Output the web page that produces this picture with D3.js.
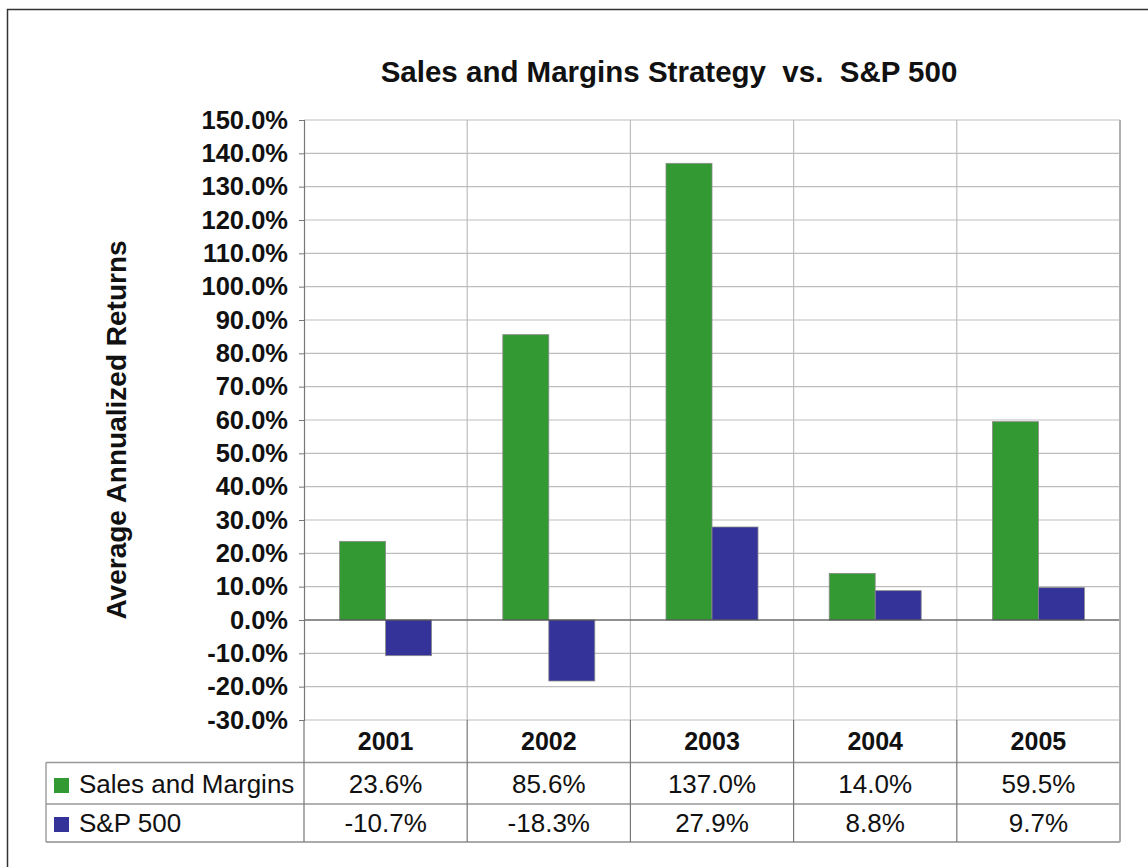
<!DOCTYPE html>
<html>
<head>
<meta charset="utf-8">
<script src="https://cdn.jsdelivr.net/npm/d3@7"></script>
<style>
  body { margin: 0; background: #fff; }
  svg text { font-family: "Liberation Sans", Arial, sans-serif; fill: #111; }
</style>
</head>
<body>
<div id="chart"></div>
<script>
// Data
const years = ['2001', '2002', '2003', '2004', '2005'];
const seriesNames = ['Sales and Margins', 'S&P 500'];
const salesMargins = [23.6, 85.6, 137.0, 14.0, 59.5];
const sp500 = [-10.7, -18.3, 27.9, 8.8, 9.7];
const seriesColors = ['#339933', '#333399'];
const yTicks = [-30, -20, -10, 0, 10, 20, 30, 40, 50, 60, 70, 80, 90, 100, 110, 120, 130, 140, 150];

(function() {
  const width = 1148, height = 867;
  const plot = {left: 304, right: 1120, top: 120, bottom: 720};
  const rowLines = [762.5, 804, 842];   // table row boundaries below the plot
  const tableLeft = 46;

  const svg = d3.select('#chart').append('svg')
    .attr('width', width)
    .attr('height', height);

  // Outer frame (runs past the window edge)
  svg.append('rect')
    .attr('x', 7.5).attr('y', 9.5)
    .attr('width', 1200).attr('height', 1000)
    .attr('fill', 'none')
    .attr('stroke', '#333')
    .attr('stroke-width', 1.5);

  const x0 = d3.scaleBand().domain(years).range([plot.left, plot.right]).padding(0);
  const x1 = d3.scaleBand().domain(seriesNames).range([0, x0.bandwidth()])
    .paddingInner(0).paddingOuter(0.774);
  const y = d3.scaleLinear().domain([-30, 150]).range([plot.bottom, plot.top]);

  // Horizontal grid
  svg.append('g').selectAll('line')
    .data(yTicks)
    .enter().append('line')
    .attr('x1', plot.left).attr('x2', plot.right)
    .attr('y1', d => y(d)).attr('y2', d => y(d))
    .attr('stroke', '#bdbdbd')
    .attr('stroke-width', 1.2);

  // Vertical grid at category boundaries
  const bounds = years.map(d => x0(d)).concat([plot.right]);
  svg.append('g').selectAll('line')
    .data(bounds.slice(1, -1))
    .enter().append('line')
    .attr('x1', d => d).attr('x2', d => d)
    .attr('y1', plot.top).attr('y2', plot.bottom)
    .attr('stroke', '#bdbdbd')
    .attr('stroke-width', 1.2);

  // Bars
  const series = [salesMargins, sp500];
  const groups = svg.append('g').selectAll('g')
    .data(years)
    .enter().append('g')
    .attr('transform', d => `translate(${x0(d)},0)`);

  groups.selectAll('rect')
    .data((d, i) => series.map((s, j) => ({name: seriesNames[j], value: s[i], color: seriesColors[j]})))
    .enter().append('rect')
    .attr('x', d => x1(d.name))
    .attr('width', x1.bandwidth())
    .attr('y', d => y(Math.max(0, d.value)))
    .attr('height', d => Math.abs(y(d.value) - y(0)))
    .attr('fill', d => d.color)
    .attr('stroke', '#8a8a8a')
    .attr('stroke-width', 0.8);

  // Zero line
  svg.append('line')
    .attr('x1', plot.left).attr('x2', plot.right)
    .attr('y1', y(0)).attr('y2', y(0))
    .attr('stroke', '#444')
    .attr('stroke-width', 1.2);

  // Right border of plot
  svg.append('line')
    .attr('x1', plot.right).attr('x2', plot.right)
    .attr('y1', plot.top).attr('y2', plot.bottom)
    .attr('stroke', '#b0b0b0')
    .attr('stroke-width', 2);

  // Y axis
  const yAxis = d3.axisLeft(y)
    .tickValues(yTicks)
    .tickSize(5)
    .tickPadding(11)
    .tickFormat(d => d.toFixed(1) + '%');

  const yg = svg.append('g')
    .attr('transform', `translate(${plot.left},0)`)
    .call(yAxis);
  yg.select('.domain').attr('stroke', '#777').attr('stroke-width', 1.2);
  yg.selectAll('.tick line').attr('stroke', '#777');
  yg.selectAll('.tick text')
    .attr('font-size', 25.5)
    .attr('font-weight', 'bold')
    .attr('font-family', '"Liberation Sans", Arial, sans-serif')
    .attr('fill', '#111');

  // Title
  svg.append('text')
    .attr('x', 669)
    .attr('y', 82)
    .attr('text-anchor', 'middle')
    .attr('font-size', 29.5)
    .attr('font-weight', 'bold')
    .style('white-space', 'pre')
    .text('Sales and Margins Strategy  vs.  S&P 500');

  // Y axis title
  svg.append('text')
    .attr('transform', 'translate(126,430) rotate(-90)')
    .attr('text-anchor', 'middle')
    .attr('font-size', 28)
    .attr('font-weight', 'bold')
    .text('Average Annualized Returns');

  // Data table
  const table = svg.append('g');
  const lineColor = '#999';

  // horizontal row lines
  table.append('line')
    .attr('x1', tableLeft).attr('x2', plot.right)
    .attr('y1', rowLines[0]).attr('y2', rowLines[0])
    .attr('stroke', lineColor).attr('stroke-width', 1.5);
  table.append('line')
    .attr('x1', tableLeft).attr('x2', plot.right)
    .attr('y1', rowLines[1]).attr('y2', rowLines[1])
    .attr('stroke', lineColor).attr('stroke-width', 1.5);
  table.append('line')
    .attr('x1', tableLeft).attr('x2', plot.right)
    .attr('y1', rowLines[2]).attr('y2', rowLines[2])
    .attr('stroke', '#aaa').attr('stroke-width', 2);

  // vertical lines
  table.selectAll('line.v')
    .data(bounds)
    .enter().append('line')
    .attr('class', 'v')
    .attr('x1', d => d).attr('x2', d => d)
    .attr('y1', plot.bottom).attr('y2', rowLines[2])
    .attr('stroke', (d, i) => i === bounds.length - 1 ? '#aaa' : '#777')
    .attr('stroke-width', (d, i) => i === bounds.length - 1 ? 2 : 1.2);
  table.append('line')
    .attr('x1', tableLeft).attr('x2', tableLeft)
    .attr('y1', rowLines[0]).attr('y2', rowLines[2])
    .attr('stroke', '#888').attr('stroke-width', 1.2);

  // year header
  table.selectAll('text.year')
    .data(years)
    .enter().append('text')
    .attr('class', 'year')
    .attr('x', d => x0(d) + x0.bandwidth() / 2)
    .attr('y', 750)
    .attr('text-anchor', 'middle')
    .attr('font-size', 25)
    .attr('font-weight', 'bold')
    .text(d => d);

  const rowBase = [793, 832];
  series.forEach((s, j) => {
    table.append('rect')
      .attr('x', 54)
      .attr('y', rowBase[j] - 15)
      .attr('width', 15)
      .attr('height', 15)
      .attr('fill', seriesColors[j]);
    table.append('text')
      .attr('x', 79)
      .attr('y', rowBase[j])
      .attr('font-size', 26)
      .attr('fill', '#222')
      .text(seriesNames[j]);
    table.selectAll('text.val' + j)
      .data(s)
      .enter().append('text')
      .attr('class', 'val' + j)
      .attr('x', (d, i) => x0(years[i]) + x0.bandwidth() / 2)
      .attr('y', rowBase[j])
      .attr('text-anchor', 'middle')
      .attr('font-size', 26)
      .attr('fill', '#222')
      .text(d => d.toFixed(1) + '%');
  });
})();
</script>
</body>
</html>
